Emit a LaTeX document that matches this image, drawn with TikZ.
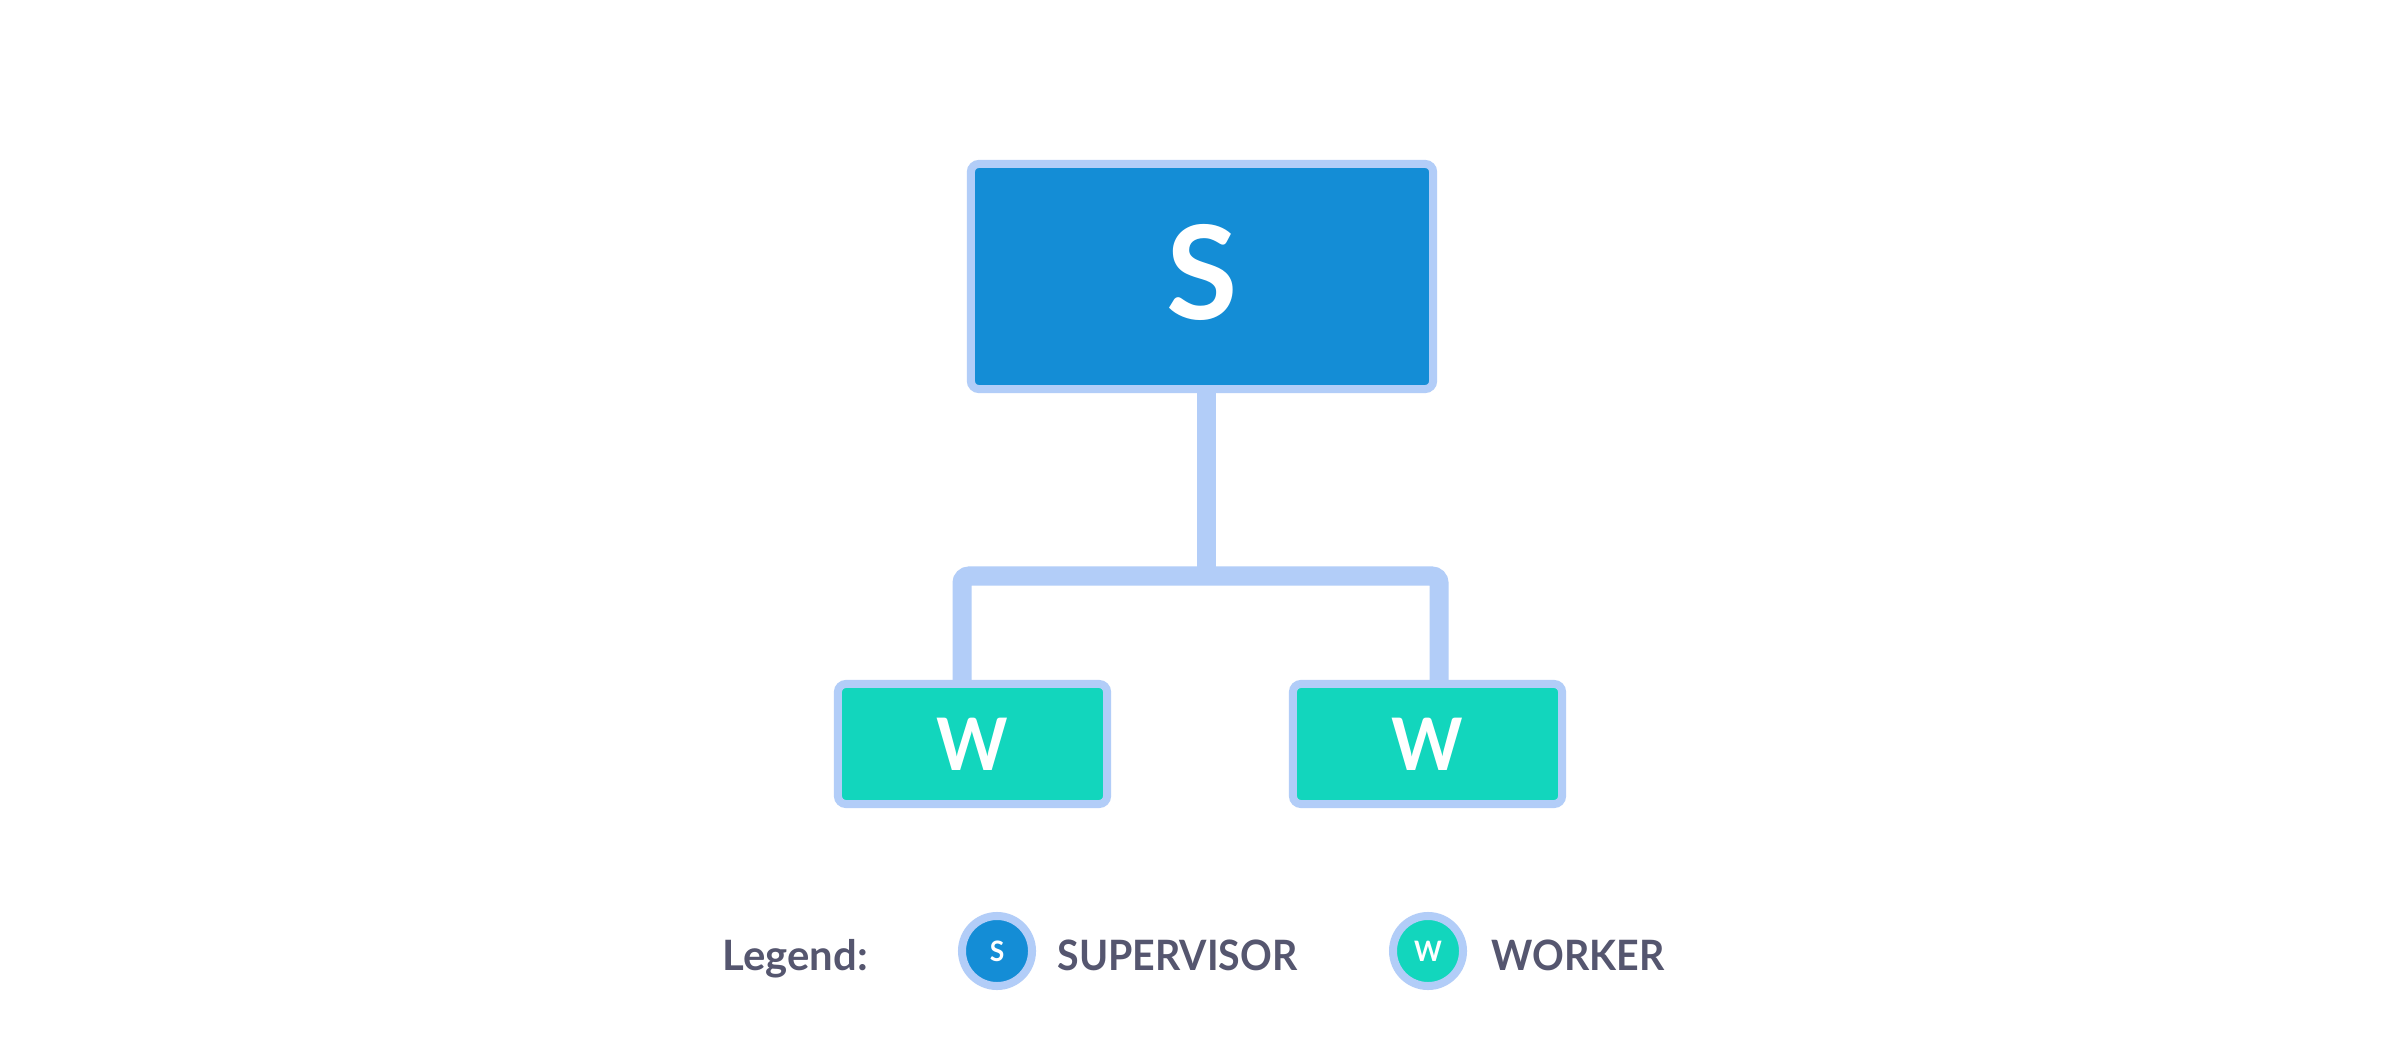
\documentclass[tikz,border=0pt]{standalone}
\usepackage{fontspec}
\setmainfont{Lato}
\newfontfamily\capsfont{Lato}[FakeStretch=0.94]
\usetikzlibrary{backgrounds}
\pgfdeclarelayer{bgzero}
\pgfsetlayers{bgzero,background,main}
\definecolor{supblue}{HTML}{148DD6}
\definecolor{workteal}{HTML}{12D6BD}
\definecolor{edgeblue}{HTML}{B2CDF8}
\definecolor{legtext}{HTML}{55566F}
\begin{document}
\begin{tikzpicture}[x=0.01cm,y=-0.01cm,
  supbox/.style={draw=edgeblue, fill=supblue, line width=0.08cm, rounded corners=0.08cm,
    minimum width=4.62cm, minimum height=2.25cm, inner sep=0pt, text=white,
    font=\bfseries\fontsize{37}{40}\selectfont},
  workbox/.style={draw=edgeblue, fill=workteal, line width=0.08cm, rounded corners=0.08cm,
    minimum width=2.69cm, minimum height=1.2cm, inner sep=0pt, text=white,
    font=\capsfont\bfseries\fontsize{20.6}{24}\selectfont},
  link/.style={draw=edgeblue, line width=0.19cm, rounded corners=0.07cm},
  legcirc/.style={circle, draw=edgeblue, line width=0.08cm, minimum size=0.70cm, inner sep=0pt,
    text=white, font=\capsfont\bfseries\fontsize{8}{9}\selectfont},
  legtxt/.style={anchor=base west, inner sep=0pt, text=legtext,
    font=\bfseries\fontsize{11.9}{14}\selectfont},
  legcaps/.style={legtxt, font=\capsfont\bfseries\fontsize{11.9}{14}\selectfont}
]
\begin{pgfonlayer}{bgzero}
\fill[white] (0,0) rectangle (2400,1064);
\end{pgfonlayer}
\useasboundingbox (0,0) rectangle (2400,1064);

\node[supbox] (sup) at (1202,276.5) {\raisebox{0.1cm}{S}};
\node[workbox] (w1) at (972.5,744) {W};
\node[workbox] (w2) at (1427.5,744) {W};
\coordinate (hub) at (1206,576);

\begin{pgfonlayer}{background}
\draw[link] ([xshift=-0.105cm]w1.north) |- (hub) -| ([xshift=0.115cm]w2.north);
\draw[link] (sup.south -| hub) -- (hub);
\end{pgfonlayer}

\node[legtxt] (leg) at (722,970) {Legend:};
\node[legcirc, fill=supblue] (ls) at (997,951) {S};
\node[legcaps] (lsl) at (1057,970) {SUPERVISOR};
\node[legcirc, fill=workteal] (lw) at (1428,951) {W};
\node[legcaps] (lwl) at (1491,970) {WORKER};
\end{tikzpicture}
\end{document}
